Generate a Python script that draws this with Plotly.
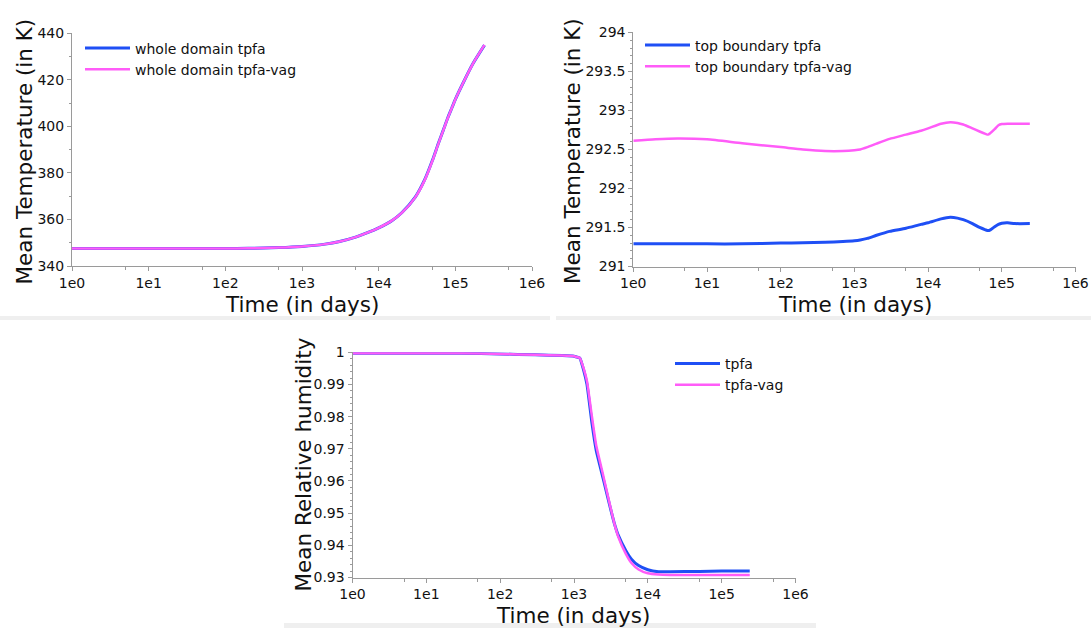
import plotly.graph_objects as go

W, H = 1091, 628

# ---------------- data ----------------
# Panel 1: whole-domain mean temperature (K)
t_whole = [1, 3, 10, 30, 100, 200, 500, 1000, 2000, 3000, 5000, 7000, 1e4, 1.5e4,
           2e4, 3e4, 4e4, 5e4, 6e4, 7e4, 8e4, 9e4, 1e5, 1.3e5, 1.7e5, 2.4e5]
whole_tpfa = [347.5, 347.5, 347.5, 347.5, 347.5, 347.6, 347.9, 348.4, 349.4, 350.4,
              352.4, 354.2, 356.4, 359.6, 362.9, 369.6, 377.2, 385.2, 392.6, 398.6,
              403.8, 407.9, 411.6, 419.5, 427.0, 434.9]
whole_tpfa_vag = [347.5, 347.5, 347.5, 347.5, 347.5, 347.6, 347.9, 348.4, 349.4, 350.4,
                  352.4, 354.2, 356.4, 359.6, 362.8, 369.5, 377.0, 385.0, 392.5, 398.5,
                  403.7, 407.9, 411.6, 419.5, 427.0, 435.0]

# Panel 2: top-boundary mean temperature (K)
t_top = [1, 2, 4, 10, 30, 100, 200, 400, 700, 1000, 1200, 1500, 2000, 3000, 5000, 8000,
         1e4, 1.5e4, 2e4, 2.5e4, 3e4, 4e4, 5e4, 6e4, 6.5e4, 7e4, 8e4, 9e4, 1e5, 1.2e5,
         1.5e5, 2.4e5]
top_tpfa = [291.29, 291.29, 291.29, 291.29, 291.29, 291.30, 291.305, 291.31, 291.32,
            291.33, 291.34, 291.36, 291.40, 291.45, 291.49, 291.54, 291.56, 291.61,
            291.63, 291.62, 291.60, 291.55, 291.50, 291.47, 291.46, 291.47, 291.51,
            291.54, 291.555, 291.56, 291.55, 291.55]
top_tpfa_vag = [292.61, 292.63, 292.64, 292.63, 292.58, 292.53, 292.50, 292.48, 292.48,
                292.49, 292.50, 292.53, 292.575, 292.635, 292.69, 292.74, 292.77, 292.83,
                292.85, 292.84, 292.82, 292.77, 292.73, 292.70, 292.69, 292.71, 292.76,
                292.81, 292.825, 292.83, 292.83, 292.83]

# Panel 3: mean relative humidity
t_rh = [1, 3, 10, 30, 100, 300, 700, 1000, 1100, 1200, 1350, 1500, 1750, 2000, 2500,
        3000, 3500, 4000, 5000, 6000, 7500, 1e4, 1.4e4, 2e4, 5e4, 1e5, 2.4e5]
rh_tpfa = [0.9997, 0.9997, 0.9997, 0.9997, 0.9995, 0.9992, 0.9990, 0.9988, 0.9985,
           0.9982, 0.9945, 0.9900, 0.9780, 0.9695, 0.9605, 0.9530, 0.9470, 0.9430,
           0.9385, 0.9357, 0.9337, 0.9324, 0.9318, 0.9318, 0.9319, 0.9320, 0.9320]
rh_tpfa_vag = [0.9997, 0.9997, 0.9997, 0.9997, 0.9995, 0.9992, 0.9990, 0.9988, 0.9985,
               0.9982, 0.9950, 0.9910, 0.9800, 0.9710, 0.9615, 0.9535, 0.9470, 0.9425,
               0.9375, 0.9345, 0.9325, 0.9313, 0.9309, 0.9308, 0.9308, 0.9308, 0.9308]

x_tickvals = [1, 10, 100, 1000, 1e4, 1e5, 1e6]
x_ticktext = ["1e0", "1e1", "1e2", "1e3", "1e4", "1e5", "1e6"]
x_minor = [5, 50, 500, 5000, 5e4, 5e5]

y1_ticks = [340, 360, 380, 400, 420, 440]
y2_ticks = [291, 291.5, 292, 292.5, 293, 293.5, 294]
y2_text = ["291", "291.5", "292", "292.5", "293", "293.5", "294"]
y3_ticks = [0.93, 0.94, 0.95, 0.96, 0.97, 0.98, 0.99, 1.0]
y3_text = ["0.93", "0.94", "0.95", "0.96", "0.97", "0.98", "0.99", "1"]

BLUE = "#1f4ff5"
PINK = "#ff5cf8"
AXC = "#9a9a9a"
FONT = "DejaVu Sans"

def px(x):
    return x / W

def py(y):
    return 1 - y / H

fig = go.Figure()

def add(x, y, name, color, width, xa, ya, leg, smooth):
    fig.add_trace(go.Scatter(x=x, y=y, mode="lines", name=name,
                             line=dict(color=color, width=width, shape="spline", smoothing=smooth),
                             xaxis=xa, yaxis=ya, legend=leg))

add(t_whole, whole_tpfa, "whole domain tpfa", BLUE, 3, "x", "y", "legend", 0.6)
add(t_whole, whole_tpfa_vag, "whole domain tpfa-vag", PINK, 2.5, "x", "y", "legend", 0.6)
add(t_top, top_tpfa, "top boundary tpfa", BLUE, 3, "x2", "y2", "legend2", 0.6)
add(t_top, top_tpfa_vag, "top boundary tpfa-vag", PINK, 2.5, "x2", "y2", "legend2", 0.6)
add(t_rh, rh_tpfa, "tpfa", BLUE, 3, "x3", "y3", "legend3", 0.4)
add(t_rh, rh_tpfa_vag, "tpfa-vag", PINK, 2.5, "x3", "y3", "legend3", 0.4)

def xaxis(domain, anchor):
    return dict(type="log", range=[0, 6], domain=domain, anchor=anchor, automargin=False,
                tickvals=x_tickvals, ticktext=x_ticktext,
                showline=True, linecolor=AXC, linewidth=1, mirror=False,
                ticks="outside", ticklen=4, tickcolor=AXC, tickwidth=1,
                minor=dict(tickmode="array", tickvals=x_minor, ticks="outside",
                           ticklen=3, tickcolor=AXC),
                showgrid=False, zeroline=False,
                tickfont=dict(family=FONT, size=14, color="#111"))

def yaxis(domain, anchor, rng, tv, tt, mdt):
    return dict(range=rng, domain=domain, anchor=anchor, automargin=False,
                tickvals=tv, ticktext=tt,
                showline=True, linecolor=AXC, linewidth=1,
                ticks="outside", ticklen=4, tickcolor=AXC, tickwidth=1,
                minor=dict(dtick=mdt, tick0=rng[0], ticks="outside", ticklen=2, tickcolor=AXC),
                showgrid=False, zeroline=False,
                tickfont=dict(family=FONT, size=14, color="#111"))

LEG = dict(xanchor="left", yanchor="top", bgcolor="rgba(0,0,0,0)", itemwidth=45,
           font=dict(family=FONT, size=14, color="#111"))

fig.update_layout(
    width=W, height=H, margin=dict(l=0, r=0, t=0, b=0, autoexpand=False),
    paper_bgcolor="white", plot_bgcolor="white",
    font=dict(family=FONT, color="#111"),
    showlegend=True,
    xaxis=xaxis([px(72), px(532)], "y"),
    yaxis=yaxis([py(266), py(33.3)], "x", [340, 440], y1_ticks, [str(v) for v in y1_ticks], 10),
    xaxis2=xaxis([px(633.3), px(1075.5)], "y2"),
    yaxis2=yaxis([py(266.5), py(32.4)], "x2", [291, 294], y2_ticks, y2_text, 0.1),
    xaxis3=xaxis([px(352.5), px(795.5)], "y3"),
    yaxis3=yaxis([py(577.5), py(352.3)], "x3", [0.93, 1.0], y3_ticks, y3_text, 0.002),
    legend=dict(x=px(80), y=py(32.5), **LEG),
    legend2=dict(x=px(640), y=py(29.5), **LEG),
    legend3=dict(x=px(670), y=py(348), **LEG),
)

# light grey strips under the panels (screenshot edges)
for x0, x1, y0, y1 in [(0, 550, 316, 320), (556, 1091, 316, 320), (284, 816, 623, 628)]:
    fig.add_shape(type="rect", xref="paper", yref="paper",
                  x0=px(x0), x1=px(x1), y0=py(y1), y1=py(y0),
                  fillcolor="#efefef", line=dict(width=0), layer="below")

title_font = dict(family=FONT, size=21.5, color="#111")
annos = [
    ("Mean Temperature (in K)", 24.5, 152, -90),
    ("Mean Temperature (in K)", 572, 151, -90),
    ("Mean Relative humidity", 302.5, 465, -90),
    ("Time (in days)", 302, 305, 0),
    ("Time (in days)", 854.5, 305, 0),
    ("Time (in days)", 573, 615.5, 0),
]
for text, x, y, ang in annos:
    fig.add_annotation(text=text, x=px(x), y=py(y), xref="paper", yref="paper",
                       xanchor="center", yanchor="middle", textangle=ang,
                       showarrow=False, font=title_font)

fig.write_html("out.html", config={"displayModeBar": False},
               post_script="document.body.style.margin='0';document.body.style.overflow='hidden';")
